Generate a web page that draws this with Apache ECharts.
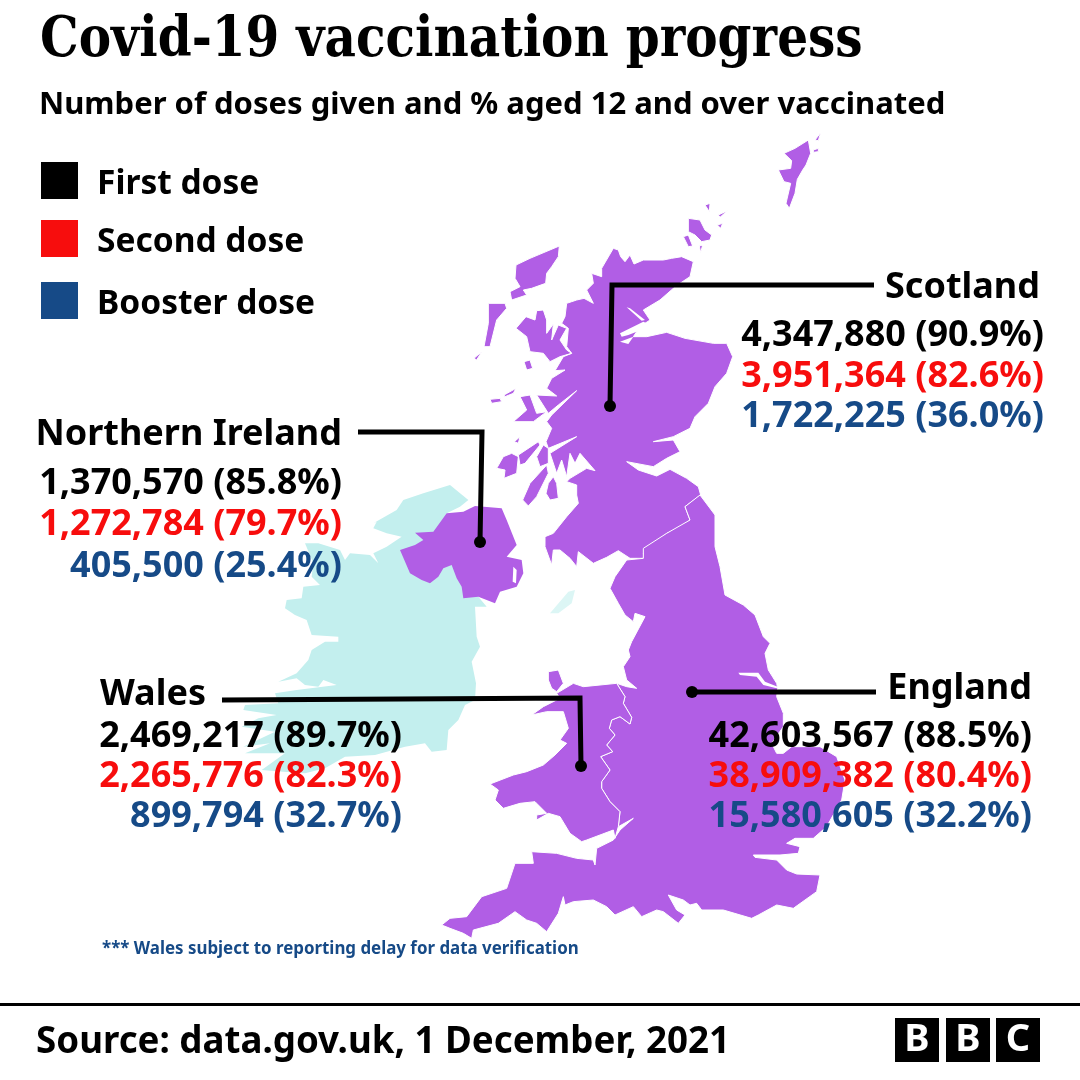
<!DOCTYPE html>
<html>
<head>
<meta charset="utf-8">
<title>Covid-19 vaccination progress</title>
<script src="https://cdn.jsdelivr.net/npm/echarts@6/dist/echarts.min.js"></script>
<style>
    html, body { margin: 0; padding: 0; background: #fff; }
    #chart { width: 1080px; height: 1080px; }
</style>
</head>
<body>
<div id="chart"></div>
<script>
var regionNames = ['Scotland', 'Northern Ireland', 'Wales', 'England'];
var doseNames = ['First dose', 'Second dose', 'Booster dose'];
var firstDoses = [4347880, 1370570, 2469217, 42603567];
var firstPct = [90.9, 85.8, 89.7, 88.5];
var secondDoses = [3951364, 1272784, 2265776, 38909382];
var secondPct = [82.6, 79.7, 82.3, 80.4];
var boosterDoses = [1722225, 405500, 899794, 15580605];
var boosterPct = [36.0, 25.4, 32.7, 32.2];

var doseColors = ['#000000', '#f70d0d', '#164a87'];
var landColor = '#b15ee5';
var irelandColor = '#c3efee';
var bodyFont = '"Noto Sans"';

function traced(ox, oy, flat) {
    var ring = [];
    for (var i = 0; i < flat.length; i += 2) {
        ring.push([ox + flat[i] / 3, 1080 - (oy + flat[i + 1] / 3)]);
    }
    return ring;
}
function north(flat) { return traced(380, 120, flat); }
function south(flat) { return traced(430, 480, flat); }
function west(flat) { return traced(230, 470, flat); }

var scotlandMain = north([665,445, 700,385, 715,390, 722,410, 735,425, 750,405, 762,432, 790,420, 850,420, 875,415, 905,410, 940,425, 930,470, 900,490, 880,505, 840,540, 790,570, 810,600, 780,620, 760,650, 800,650, 860,637, 915,655, 1000,670, 1040,670, 1058,710, 1040,760, 1005,800, 985,850, 945,890, 930,925, 880,950, 820,965, 880,960, 900,995, 860,1015, 820,1040, 740,1025, 775,1050, 830,1068, 870,1048, 920,1075, 955,1100, 962,1125, 915,1160, 930,1200, 905,1220, 860,1240, 810,1285, 790,1300])
    .concat(south([645,235, 600,235, 565,212, 530,232, 490,250, 445,215, 440,260, 420,235, 390,210, 370,210, 365,255, 345,200, 345,170, 370,160, 410,110, 445,70]))
    .concat(north([590,1125, 590,1095, 560,1085, 570,1075, 620,1045, 645,1052, 600,1000, 585,1030, 570,1000, 560,1070, 545,1020, 530,1060, 510,1000, 590,950, 505,985, 498,965, 515,925, 500,905, 515,885, 590,812, 535,855, 505,880, 470,825, 530,828, 500,805, 515,775, 555,750, 525,752, 550,710, 575,700, 560,680, 565,625, 545,610, 555,590, 560,550, 575,545, 590,540, 612,535, 640,550, 620,510, 640,490, 635,460, 665,470]));

var scotlandIslands = [
    [1245,85, 1285,60, 1292,100, 1278,135, 1268,150, 1252,178, 1245,220, 1228,265, 1218,250, 1232,190, 1212,185, 1195,150, 1232,145, 1235,122, 1212,100],
    [1305,60, 1322,38, 1315,62],
    [1300,90, 1315,85, 1315,95, 1300,97],
    [925,295, 960,300, 975,330, 995,345, 990,360, 965,365, 945,345, 925,335],
    [910,350, 925,345, 938,378, 925,380],
    [975,255, 990,250, 988,275],
    [1015,285, 1042,272, 1020,292],
    [1012,315, 1028,310, 1022,325],
    [958,378, 968,375, 962,398],
    [408,435, 450,415, 538,378, 535,410, 515,440, 500,460, 497,490, 455,505, 430,510, 440,525, 395,540, 390,515, 420,500, 405,475],
    [325,550, 375,550, 380,565, 350,600, 330,680, 312,680, 325,610],
    [282,715, 305,695, 290,720],
    [408,625, 438,590, 465,600, 470,572, 490,570, 500,600, 500,640, 520,612, 515,660, 535,615, 560,625, 540,660, 560,690, 575,700, 540,710, 510,725, 490,700, 450,695, 440,650],
    [420,830, 450,825, 470,880, 500,875, 460,905, 400,905, 440,870],
    [330,838, 360,835, 365,845, 335,850],
    [372,825, 408,805, 400,820, 375,830],
    [432,725, 450,720, 458,745, 440,750],
    [350,1045, 370,1010, 395,1000, 415,1010, 410,1060, 372,1075, 375,1050],
    [415,1005, 475,965, 480,975, 435,1030, 420,1035],
    [403,965, 420,950, 415,970],
    [505,1090, 520,1070, 530,1090, 535,1135, 510,1140, 498,1120],
    [450,1090, 500,1035, 505,1060, 470,1130, 445,1158, 428,1140],
    [480,1040, 470,1010, 490,975, 505,985, 505,1030]
].map(north);

var england = south([810,45, 855,105, 855,200, 870,260, 885,345, 940,375, 975,405, 1000,470, 1020,490, 1005,520, 1015,570, 1040,610, 1043,625, 1040,650, 1060,700, 1060,740, 1025,790, 1040,820, 1060,820, 1085,800, 1170,800, 1220,830, 1245,900, 1235,960, 1190,1040, 1150,1075, 1095,1075, 1070,1090, 1110,1100, 1105,1120, 1050,1125, 970,1125, 975,1132, 1040,1140, 1070,1170, 1100,1182, 1170,1185, 1160,1235, 1090,1285, 1040,1275, 985,1305, 965,1315, 880,1290, 815,1290, 800,1270, 780,1275, 760,1260, 715,1245, 740,1290, 765,1305, 745,1330, 700,1295, 680,1290, 635,1310, 610,1280, 555,1305, 530,1280, 490,1260, 430,1265, 405,1275, 400,1250, 385,1300, 350,1355, 320,1330, 290,1320, 255,1295, 205,1330, 130,1350, 125,1375, 100,1360, 60,1345, 35,1335, 60,1315, 110,1310, 155,1250, 230,1225, 255,1150, 310,1150, 305,1115, 380,1120, 440,1135, 490,1140, 495,1155, 500,1105, 550,1080, 570,1050, 610,1015, 565,1040, 570,995, 540,965, 515,925, 515,905, 540,870, 512,830, 548,815, 530,795, 555,765, 538,745, 545,720, 570,710, 600,732, 605,712, 580,670, 585,650, 560,610, 590,620, 620,625, 590,600, 580,560, 600,530, 595,510, 605,485, 645,410, 615,400, 610,425, 585,405, 565,370, 540,325, 555,290, 590,240, 640,235, 640,205, 710,160, 780,120, 765,80]);

var wales = south([560,610, 585,650, 580,670, 605,712, 600,732, 570,710, 545,720, 538,745, 555,765, 530,795, 548,815, 512,830, 540,870, 515,905, 515,925, 540,965, 570,995, 565,1040, 555,1075, 550,1050, 470,1080, 455,1085, 420,1060, 390,1010, 355,1000, 320,1020, 320,1005, 350,1000, 315,965, 270,970, 220,985, 195,960, 205,930, 180,912, 250,885, 290,875, 340,855, 375,825, 410,790, 390,780, 415,745, 400,695, 350,695, 305,705, 340,680, 390,655, 380,640, 430,610, 460,620, 510,615]);
var anglesey = south([355,575, 385,570, 400,610, 380,635, 365,625, 355,600]);

var northernIreland = west([510,240, 555,225, 580,210, 555,188, 610,185, 650,130, 700,125, 735,108, 815,115, 830,150, 860,225, 830,260, 875,270, 880,310, 860,350, 810,365, 795,400, 745,380, 700,385, 695,350, 680,325, 665,285, 640,295, 625,320, 600,340, 575,330, 540,310]);

var ireland = west([430,160, 500,120, 520,90, 580,70, 660,45, 715,90, 690,110, 650,130, 700,300, 745,380, 770,410, 735,410, 740,500, 750,530, 725,575, 738,640, 735,690])
    .concat(traced(225, 640, [720,195, 700,240, 670,270, 665,330, 620,335, 600,310, 540,320, 450,345, 360,350, 300,385, 240,400, 175,395, 110,390, 180,340, 60,340, 135,310, 55,320, 150,275, 50,260, 100,235, 155,225, 55,210, 60,195, 160,190, 150,160, 215,150, 335,135, 295,120, 280,140, 240,135, 215,115, 160,125, 215,100, 250,60, 260,30, 300,5, 340,5]))
    .concat(traced(270, 520, [205,350, 125,345, 110,300, 75,285, 45,265, 50,240, 95,235, 100,200, 150,195, 125,170, 130,130, 105,70, 145,70, 210,90, 225,120, 240,100, 300,105, 325,130, 310,100, 350,80, 395,50, 350,40, 310,25, 320,5]));

var isleOfMan = south([360,400, 415,335, 435,330, 425,370, 385,400]);

// firths and estuaries that cut into the land
var inlets = [
    north([740,562, 750,565, 795,600, 785,602]),
    north([720,640, 790,605, 800,610, 770,635, 745,645, 725,650]),
    north([720,665, 760,650, 745,672]),
    south([925,578, 985,578, 1005,605, 1043,620, 1040,625, 1000,615, 980,590, 930,585]),
    west([850,290, 860,300, 858,340, 848,335])
];

function polygons(rings) {
    return rings.map(function (r) { return [r]; });
}
function feature(name, rings) {
    return {
        type: 'Feature',
        properties: { name: name },
        geometry: { type: 'MultiPolygon', coordinates: polygons(rings) }
    };
}

echarts.registerMap('uk', {
    type: 'FeatureCollection',
    features: [
        feature('Ireland', [ireland]),
        feature('Isle of Man', [isleOfMan]),
        feature('Northern Ireland', [northernIreland]),
        feature('Scotland', [scotlandMain].concat(scotlandIslands)),
        feature('England', [england]),
        feature('Wales', [wales, anglesey]),
        feature('Inlets', inlets)
    ]
});

// label layout, same order as regionNames
var nameAnchors = [[1040, 288, 'left'], [342, 435, 'left'], [100, 695, 'right'], [1032, 689, 'left']];
var valueRight = [1044, 342, 402, 1032];
var valueRows = [[336, 377, 417], [484, 525, 567], [737, 777, 817], [737, 777, 817]];
var leaders = [
    [[874, 285], [612, 285], [610, 406]],
    [[358, 432], [482, 432], [480, 542]],
    [[222, 700], [580, 698], [581, 766]],
    [[876, 692], [692, 692]]
];

function toMap(x, y) { return [x, 1080 - y]; }

function doseSeries(idx, doses, pct) {
    return {
        name: doseNames[idx],
        type: 'scatter',
        coordinateSystem: 'geo',
        symbolSize: 0,
        silent: true,
        z: 5,
        itemStyle: { color: doseColors[idx], opacity: 1 },
        label: {
            show: true,
            position: 'left',
            distance: 0,
            color: doseColors[idx],
            fontFamily: bodyFont,
            fontWeight: 700,
            fontSize: 36,
            formatter: function (p) {
                return doses[p.dataIndex].toLocaleString('en-GB') + ' (' + pct[p.dataIndex].toFixed(1) + '%)';
            }
        },
        data: regionNames.map(function (n, i) {
            return { name: n, value: toMap(valueRight[i], valueRows[i][idx]) };
        })
    };
}

function legendFor(idx, top) {
    return {
        left: 36,
        top: top,
        data: [{ name: doseNames[idx], icon: 'rect' }],
        selectedMode: false,
        itemWidth: 37,
        itemHeight: 37,
        formatter: '{a|{name}}',
        textStyle: {
            color: '#000',
            rich: {
                a: {
                    color: '#000',
                    fontFamily: bodyFont,
                    fontWeight: 700,
                    fontSize: 33.5,
                    padding: [8, 0, 0, 14]
                }
            }
        }
    };
}

function bbcBlock(x, letter) {
    return [
        { type: 'rect', shape: { x: x, y: 1018, width: 44, height: 44 }, style: { fill: '#000' } },
        { type: 'text', x: x + 22, y: 1040, style: { text: letter, fill: '#fff', align: 'center', verticalAlign: 'middle', fontFamily: bodyFont, fontWeight: 700, fontSize: 38 } }
    ];
}

var myChart = echarts.init(document.getElementById('chart'));
myChart.setOption({
    animation: false,
    backgroundColor: '#fff',
    title: [
        { text: 'Number of doses given and % aged 12 and over vaccinated', left: 39, top: 90, padding: 0,
          textStyle: { fontFamily: bodyFont, fontWeight: 700, fontSize: 31, color: '#000' } }
    ],
    legend: [legendFor(0, 157), legendFor(1, 215), legendFor(2, 277)],
    geo: {
        map: 'uk',
        roam: false,
        silent: true,
        aspectScale: 1,
        boundingCoords: [[0, 1080], [1080, 0]],
        layoutCenter: ['50%', '50%'],
        layoutSize: 1080,
        label: { show: false },
        itemStyle: { areaColor: landColor, borderColor: '#fff', borderWidth: 1 },
        regions: [
            { name: 'Ireland', itemStyle: { areaColor: irelandColor, borderWidth: 0 } },
            { name: 'Isle of Man', itemStyle: { areaColor: '#dcf6f5', borderWidth: 0 } },
            { name: 'Northern Ireland', itemStyle: { borderWidth: 0 } },
            { name: 'Inlets', itemStyle: { areaColor: '#fff', borderWidth: 0 } }
        ]
    },
    series: [
        {
            type: 'lines',
            coordinateSystem: 'geo',
            polyline: true,
            silent: true,
            z: 3,
            lineStyle: { color: '#000', width: 5, opacity: 1 },
            data: leaders.map(function (path) {
                return { coords: path.map(function (pt) { return toMap(pt[0], pt[1]); }) };
            })
        },
        {
            type: 'scatter',
            coordinateSystem: 'geo',
            symbolSize: 12,
            silent: true,
            z: 4,
            itemStyle: { color: '#000', opacity: 1 },
            data: leaders.map(function (path) {
                var end = path[path.length - 1];
                return toMap(end[0], end[1]);
            })
        },
        {
            type: 'scatter',
            coordinateSystem: 'geo',
            symbolSize: 0,
            silent: true,
            z: 5,
            itemStyle: { opacity: 1 },
            data: regionNames.map(function (n, i) {
                return {
                    name: n,
                    value: toMap(nameAnchors[i][0], nameAnchors[i][1]),
                    label: { position: nameAnchors[i][2] }
                };
            }),
            label: {
                show: true,
                distance: 0,
                color: '#000',
                fontFamily: bodyFont,
                fontWeight: 700,
                fontSize: 36,
                formatter: '{b}'
            }
        },
        doseSeries(0, firstDoses, firstPct),
        doseSeries(1, secondDoses, secondPct),
        doseSeries(2, boosterDoses, boosterPct)
    ],
    graphic: [
        // the reference's slab title is narrower than DejaVu Serif, so squeeze it
        { type: 'text', x: 40, y: 41, scaleX: 0.867, style: { text: 'Covid-19 vaccination progress', fill: '#000', verticalAlign: 'middle', fontFamily: '"DejaVu Serif"', fontWeight: 700, fontSize: 56 } },
        { type: 'text', x: 102, y: 949, style: { text: '*** Wales subject to reporting delay for data verification', fill: '#164a87', verticalAlign: 'middle', fontFamily: bodyFont, fontWeight: 700, fontSize: 16.9 } },
        { type: 'rect', shape: { x: 0, y: 1003, width: 1080, height: 3 }, style: { fill: '#000' } },
        { type: 'text', x: 36, y: 1043, style: { text: 'Source: data.gov.uk, 1 December, 2021', fill: '#000', verticalAlign: 'middle', fontFamily: bodyFont, fontWeight: 700, fontSize: 36.7 } }
    ].concat(bbcBlock(895, 'B'), bbcBlock(946, 'B'), bbcBlock(996, 'C'))
});
</script>
</body>
</html>
